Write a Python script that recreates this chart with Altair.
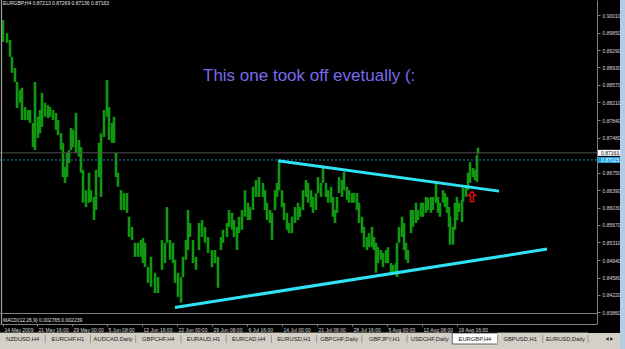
import altair as alt
import pandas as pd

# ---------------- data ----------------
bar_index = [3, 7, 10, 12, 15, 17, 20, 22, 25, 28, 30, 33, 35, 38, 40, 42, 45, 48, 50, 53,
             56, 58, 61, 63, 65, 67, 69, 71, 73, 76, 79, 81, 83, 86, 89, 91, 94, 96, 99, 101,
             104, 107, 109, 112, 114, 116, 118, 121, 124, 127, 129, 132, 135, 138, 141, 143, 145, 148, 151, 155,
             158, 162, 165, 167, 170, 173, 175, 178, 181, 183, 186, 188, 190, 193, 196, 199, 202, 205, 208, 212,
             215, 218, 221, 223, 227, 229, 232, 234, 237, 239, 242, 245, 248, 250, 253, 256, 259, 263, 265, 267,
             270, 272, 275, 277, 279, 282, 284, 287, 289, 292, 295, 298, 300, 303, 306, 308, 311, 313, 316, 318,
             321, 323, 326, 328, 331, 333, 335, 337, 339, 342, 344, 347, 349, 352, 354, 357, 359, 362, 364, 367,
             369, 372, 374, 376, 378, 381, 383, 386, 388, 391, 393, 396, 397, 399, 402, 404, 406, 408, 411, 413,
             416, 418, 421, 423, 426, 428, 431, 433, 436, 438, 440, 443, 445, 447, 449, 450, 453, 455, 457, 459,
             462, 463, 466, 468, 470, 473, 475, 477, 478]
bar_high = [0.8991, 0.8964, 0.8950, 0.8915, 0.8892, 0.8863, 0.8846, 0.8851, 0.8811, 0.8805, 0.8805, 0.8778, 0.8863, 0.8791, 0.8805, 0.8840, 0.8820, 0.8815, 0.8811, 0.8805,
            0.8799, 0.8784, 0.8757, 0.8737, 0.8687, 0.8716, 0.8722, 0.8768, 0.8764, 0.8799, 0.8743, 0.8728, 0.8681, 0.8639, 0.8675, 0.8639, 0.8625, 0.8681, 0.8737, 0.8757,
            0.8805, 0.8867, 0.8811, 0.8778, 0.8791, 0.8716, 0.8675, 0.8639, 0.8633, 0.8633, 0.8584, 0.8563, 0.8530, 0.8530, 0.8536, 0.8540, 0.8530, 0.8480, 0.8501, 0.8468,
            0.8459, 0.8536, 0.8530, 0.8604, 0.8536, 0.8530, 0.8495, 0.8468, 0.8459, 0.8501, 0.8536, 0.8598, 0.8571, 0.8536, 0.8501, 0.8571, 0.8577, 0.8563, 0.8542, 0.8515,
            0.8515, 0.8501, 0.8542, 0.8557, 0.8571, 0.8598, 0.8592, 0.8577, 0.8563, 0.8584, 0.8598, 0.8639, 0.8613, 0.8604, 0.8646, 0.8660, 0.8666, 0.8654, 0.8639, 0.8613,
            0.8598, 0.8592, 0.8639, 0.8654, 0.8697, 0.8639, 0.8613, 0.8592, 0.8571, 0.8584, 0.8604, 0.8613, 0.8604, 0.8639, 0.8660, 0.8654, 0.8639, 0.8625, 0.8633, 0.8666,
            0.8654, 0.8685, 0.8654, 0.8639, 0.8646, 0.8625, 0.8598, 0.8625, 0.8666, 0.8660, 0.8677, 0.8646, 0.8639, 0.8633, 0.8633, 0.8633, 0.8613, 0.8584, 0.8563, 0.8542,
            0.8550, 0.8563, 0.8542, 0.8530, 0.8521, 0.8515, 0.8509, 0.8515, 0.8521, 0.8488, 0.8484, 0.8488, 0.8530, 0.8563, 0.8584, 0.8571, 0.8530, 0.8515, 0.8598, 0.8598,
            0.8613, 0.8598, 0.8613, 0.8613, 0.8625, 0.8623, 0.8625, 0.8625, 0.8654, 0.8625, 0.8613, 0.8639, 0.8633, 0.8625, 0.8604, 0.8584, 0.8563, 0.8613, 0.8625, 0.8613,
            0.8619, 0.8644, 0.8646, 0.8675, 0.8697, 0.8685, 0.8681, 0.8712, 0.87269]
bar_low = [0.8946, 0.8944, 0.8915, 0.8882, 0.8863, 0.8809, 0.8820, 0.8784, 0.8784, 0.8784, 0.8778, 0.8728, 0.8722, 0.8747, 0.8757, 0.8770, 0.8791, 0.8788, 0.8791, 0.8784,
           0.8764, 0.8753, 0.8722, 0.8666, 0.8654, 0.8666, 0.8695, 0.8722, 0.8728, 0.8716, 0.8708, 0.8675, 0.8613, 0.8604, 0.8613, 0.8615, 0.8577, 0.8598, 0.8666, 0.8625,
           0.8749, 0.8791, 0.8743, 0.8737, 0.8737, 0.8666, 0.8646, 0.8598, 0.8598, 0.8592, 0.8542, 0.8536, 0.8501, 0.8501, 0.8501, 0.8488, 0.8480, 0.8447, 0.8439, 0.8426,
           0.8426, 0.8474, 0.8488, 0.8530, 0.8495, 0.8488, 0.8447, 0.8418, 0.8406, 0.8459, 0.8495, 0.8515, 0.8542, 0.8488, 0.8474, 0.8515, 0.8542, 0.8530, 0.8509, 0.8480,
           0.8488, 0.8437, 0.8515, 0.8530, 0.8542, 0.8563, 0.8557, 0.8542, 0.8515, 0.8550, 0.8557, 0.8584, 0.8577, 0.8577, 0.8598, 0.8625, 0.8625, 0.8625, 0.8598, 0.8577,
           0.8571, 0.8536, 0.8598, 0.8625, 0.8639, 0.8604, 0.8577, 0.8557, 0.8550, 0.8550, 0.8571, 0.8577, 0.8584, 0.8598, 0.8625, 0.8613, 0.8604, 0.8592, 0.8598, 0.8633,
           0.8625, 0.8654, 0.8625, 0.8613, 0.8613, 0.8584, 0.8571, 0.8592, 0.8633, 0.8625, 0.8639, 0.8619, 0.8613, 0.8613, 0.8613, 0.8598, 0.8571, 0.8550, 0.8521, 0.8515,
           0.8521, 0.8521, 0.8515, 0.8468, 0.8488, 0.8495, 0.8480, 0.8488, 0.8488, 0.8468, 0.8468, 0.8468, 0.8459, 0.8530, 0.8542, 0.8515, 0.8495, 0.8488, 0.8550, 0.8563,
           0.8571, 0.8577, 0.8584, 0.8584, 0.8592, 0.8598, 0.8592, 0.8598, 0.8613, 0.8592, 0.8584, 0.8613, 0.8604, 0.8592, 0.8563, 0.8526, 0.8526, 0.8557, 0.8577, 0.8594,
           0.8573, 0.8615, 0.8625, 0.8639, 0.8654, 0.8666, 0.8660, 0.8656, 0.87136]

price_ticks = [0.90010, 0.89650, 0.89290, 0.88930, 0.88570, 0.88210, 0.87840, 0.87480,
               0.86750, 0.86390, 0.86030, 0.85670, 0.85310, 0.84940, 0.84580, 0.84220, 0.83860]
price_domain = [0.83847, 0.90327]

time_tick_bars = [3, 37, 72, 107, 142, 177, 212, 247, 282, 317, 352, 387, 422, 457]
time_tick_labels = ["14 May 2009", "21 May 16:00", "29 May 00:00", "5 Jun 08:00", "12 Jun 16:00",
                    "22 Jun 00:00", "29 Jun 08:00", "6 Jul 16:00", "14 Jul 00:00", "21 Jul 08:00",
                    "28 Jul 16:00", "5 Aug 00:00", "12 Aug 08:00", "19 Aug 16:00"]
bar_domain = [0, 597]

symbol = "EURGBP,H4"
last_ohlc = [0.87213, 0.87269, 0.87136, 0.87163]
hline_price = 0.87015

trend_start_bar = [278, 175]
trend_start_price = [0.8700, 0.8396]
trend_end_bar = [499, 547]
trend_end_price = [0.8637, 0.8517]

arrow_bar = [472]
arrow_price = [0.8626]

note_text = "This one took off evetually (:"
note_bar = [203]
note_price = [0.8865]

macd_text = "MACD(12,26,9) 0.002765 0.002239"

tabs = ["NZDUSD,H4", "EURCHF,H1", "AUDCAD,Daily", "GBPCHF,H4", "EURAUD,H1", "EURCAD,H4",
        "EURUSD,H1", "GBPCHF,Daily", "GBPJPY,H1", "USDCHF,Daily", "EURGBP,H4", "GBPUSD,H1",
        "EURUSD,Daily"]
active_tab = "EURGBP,H4"

# ---------------- tables ----------------
bars_df = pd.DataFrame({"bar": bar_index, "high": bar_high, "low": bar_low})
trend_df = pd.DataFrame({"bar": trend_start_bar, "price": trend_start_price,
                         "bar2": trend_end_bar, "price2": trend_end_price})
bid_df = pd.DataFrame({"price": [last_ohlc[3]], "label": [f"{last_ohlc[3]:.5f}"]})
hl_df = pd.DataFrame({"price": [hline_price], "label": [f"{hline_price:.5f}"]})
arrow_df = pd.DataFrame({"bar": arrow_bar, "price": arrow_price})
note_df = pd.DataFrame({"bar": note_bar, "price": note_price, "text": [note_text]})
header_df = pd.DataFrame({"text": [symbol + "  " + " ".join(f"{v:.5f}" for v in last_ohlc)]})
macd_df = pd.DataFrame({"text": [macd_text]})
tabs_df = pd.DataFrame({"tab": tabs, "active": [t == active_tab for t in tabs]})
one_df = pd.DataFrame({"k": [0]})

FONT = "Liberation Sans"
GRAY = "#808080"
xs = alt.Scale(domain=bar_domain, nice=False, zero=False)
ys = alt.Scale(domain=price_domain, nice=False, zero=False)

label_expr = " : ".join(f"datum.value == {b} ? '{l}'" for b, l in zip(time_tick_bars, time_tick_labels)) + " : ''"

x_axis = alt.Axis(values=time_tick_bars, labelExpr=label_expr, orient="bottom", offset=11,
                  title=None, grid=False, domainColor=GRAY, tickColor=GRAY, tickSize=2,
                  labelColor="#d8d8d8", labelFont=FONT, labelFontSize=5, labelAlign="left",
                  labelBaseline="top", labelPadding=1, labelOffset=1, labelOverlap=False,
                  labelFlush=False)
y_axis = alt.Axis(values=price_ticks, format=".5f", orient="right", title=None, grid=False,
                  domainColor=GRAY, tickColor=GRAY, tickSize=3, labelColor="#d8d8d8",
                  labelFont=FONT, labelFontSize=5, labelPadding=2, labelOverlap=False,
                  labelFlush=False, labelBaseline="middle")


def Y(field):
    return alt.Y(field, scale=ys, axis=y_axis)


# chrome
tab_bg = alt.Chart(one_df).mark_rect(color="#d4d0c8").encode(
    x=alt.value(0), x2=alt.value(620), y=alt.value(333), y2=alt.value(349))
right_strip = alt.Chart(one_df).mark_rect(color="#b4cce4").encode(
    x=alt.value(620), x2=alt.value(625), y=alt.value(0), y2=alt.value(349))
left_edge = alt.Chart(one_df).mark_rule(color="#a0a0a0", strokeWidth=1.2).encode(
    x=alt.value(1.5), y=alt.value(0), y2=alt.value(324))
pane_sep = alt.Chart(one_df).mark_rule(color=GRAY, strokeWidth=1).encode(
    x=alt.value(0), x2=alt.value(597), y=alt.value(313.5))
axis_ext = alt.Chart(one_df).mark_rule(color=GRAY, strokeWidth=1).encode(
    x=alt.value(597.5), y=alt.value(313), y2=alt.value(324))

bid_line = alt.Chart(bid_df).mark_rule(color="#505050", strokeWidth=1).encode(y=Y("price:Q"))
h_line = alt.Chart(hl_df).mark_rule(color="#1f86b0", strokeWidth=1, strokeDash=[2, 2]).encode(
    y=Y("price:Q"))

bars = alt.Chart(bars_df).mark_rule(color="#119811", strokeWidth=2.6).encode(
    x=alt.X("bar:Q", scale=xs, axis=x_axis),
    y=Y("high:Q"),
    y2="low:Q")

trend = alt.Chart(trend_df).mark_rule(color="#2ee4f4", strokeWidth=3).encode(
    x=alt.X("bar:Q", scale=xs, axis=None), y=Y("price:Q"),
    x2="bar2:Q", y2="price2:Q")

arrow_path = "M0,-1 L0.7,-0.15 L0.3,-0.15 L0.3,1 L-0.3,1 L-0.3,-0.15 L-0.7,-0.15 Z"
arrow = alt.Chart(arrow_df).mark_point(shape=arrow_path, size=110, filled=True, fill="#3a0000",
                                       stroke="#e01010", strokeWidth=1.3, opacity=1).encode(
    x=alt.X("bar:Q", scale=xs, axis=None), y=Y("price:Q"))

note = alt.Chart(note_df).mark_text(align="left", baseline="alphabetic", font=FONT, fontSize=17,
                                    color="#7B68EE").encode(
    x=alt.X("bar:Q", scale=xs, axis=None), y=Y("price:Q"), text="text:N")

header = alt.Chart(header_df).mark_text(align="left", baseline="top", font=FONT, fontSize=5,
                                        color="#e0e0e0").encode(
    x=alt.value(3), y=alt.value(1), text="text:N")

macd = alt.Chart(macd_df).mark_text(align="left", baseline="middle", font=FONT, fontSize=5,
                                    color="#e0e0e0").encode(
    x=alt.value(3), y=alt.value(319.5), text="text:N")

bid_tag = alt.Chart(bid_df).mark_rect(color="#ffffff", height=6).encode(
    x=alt.value(598), x2=alt.value(620), y=Y("price:Q"))
bid_txt = alt.Chart(bid_df).mark_text(align="left", baseline="middle", font=FONT, fontSize=5,
                                      color="#000000").encode(
    x=alt.value(601), y=Y("price:Q"), text="label:N")
hl_tag = alt.Chart(hl_df).mark_rect(color="#1aa0e0", height=6).encode(
    x=alt.value(598), x2=alt.value(620), y=Y("price:Q"))
hl_txt = alt.Chart(hl_df).mark_text(align="left", baseline="middle", font=FONT, fontSize=5,
                                    color="#ffffff").encode(
    x=alt.value(601), y=Y("price:Q"), text="label:N")

ts = alt.Scale(domain=tabs, range=[0, 588], paddingInner=0, paddingOuter=0)
tab_box = alt.Chart(tabs_df).mark_rect(strokeWidth=0.8).encode(
    x=alt.X("tab:N", scale=ts, axis=None),
    y=alt.value(333), y2=alt.value(344),
    fill=alt.condition("datum.active", alt.value("#ffffff"), alt.value("#d4d0c8")),
    stroke=alt.condition("datum.active", alt.value("#404040"), alt.value("#d4d0c8")))
tab_sep = alt.Chart(tabs_df).mark_rule(color="#8a8a8a", strokeWidth=0.8).encode(
    x=alt.X("tab:N", scale=ts, axis=None, bandPosition=1),
    y=alt.value(335), y2=alt.value(343))
tab_txt = alt.Chart(tabs_df).mark_text(baseline="middle", font=FONT, fontSize=5.8,
                                       color="#202020").encode(
    x=alt.X("tab:N", scale=ts, axis=None, bandPosition=0.5), y=alt.value(339), text="tab:N")
tab_arrows = alt.Chart(pd.DataFrame({"shape": ["triangle-left", "triangle-right"],
                                     "pos": ["l", "r"]})).mark_point(filled=True, size=12,
                                                                     color="#202020", opacity=1).encode(
    x=alt.X("pos:N", scale=alt.Scale(domain=["l", "r"], range=[605, 614]), axis=None),
    y=alt.value(339), shape=alt.Shape("shape:N", scale=None, legend=None))

chart = alt.layer(
    bars, tab_bg, right_strip, tab_box, tab_sep, tab_txt, tab_arrows,
    bid_line, h_line, trend, arrow, note,
    left_edge, pane_sep, axis_ext, header, macd,
    bid_tag, bid_txt, hl_tag, hl_txt
).resolve_scale(x="independent").properties(
    width=597, height=313, background="#000000",
    padding={"left": 0, "top": 0, "right": 28, "bottom": 36},
    autosize=alt.AutoSizeParams(type="none")
).configure_view(stroke=None)

chart.save("out.html", embed_options={"renderer": "svg", "actions": False})
